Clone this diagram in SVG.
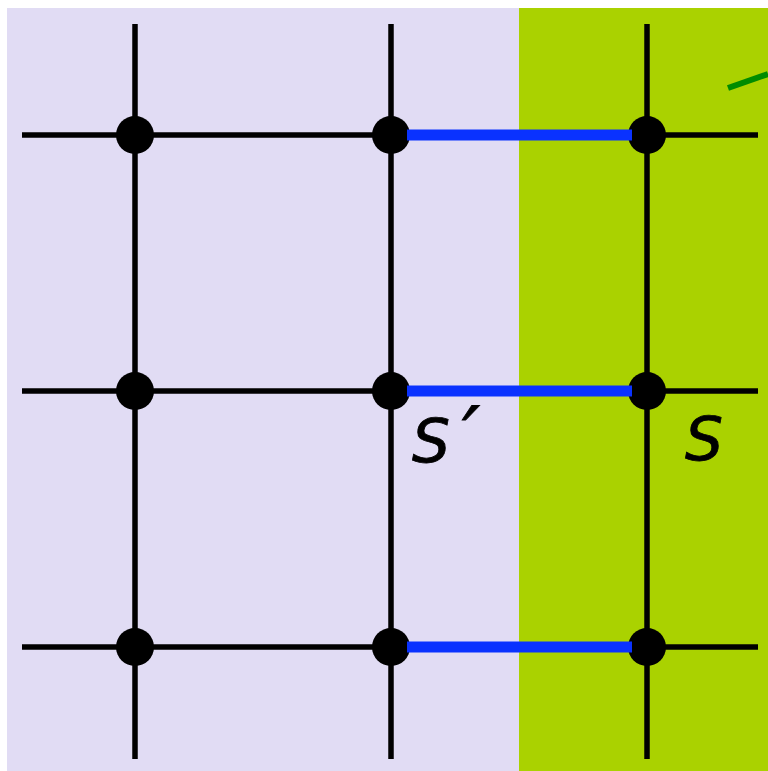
<svg xmlns="http://www.w3.org/2000/svg" width="768" height="771" viewBox="0 0 768 771">
<style>
.g{stroke:#000;stroke-width:5.5;fill:none}
.b{stroke:#0a32ff;stroke-width:11;fill:none}
.n{fill:#000}
.t{font-family:"DejaVu Sans",sans-serif;font-style:italic;font-size:60px;fill:#000;stroke:#000;stroke-width:0.8}
</style>
<rect x="0" y="0" width="768" height="771" fill="#fff"/>
<rect x="7" y="8" width="512" height="763" fill="#e1dcf4"/>
<rect x="519" y="8" width="249" height="763" fill="#aad200"/>
<line x1="728" y1="88" x2="768" y2="74" stroke="#008c00" stroke-width="6"/>
<g id="connectors">
<line class="g" x1="135" y1="24" x2="135" y2="759"/>
<line class="g" x1="391" y1="24" x2="391" y2="759"/>
<line class="g" x1="647" y1="24" x2="647" y2="759"/>
<line class="g" x1="22" y1="135" x2="391" y2="135"/>
<line class="g" x1="22" y1="391" x2="391" y2="391"/>
<line class="g" x1="22" y1="647" x2="391" y2="647"/>
<line class="g" x1="647" y1="135" x2="758" y2="135"/>
<line class="g" x1="647" y1="391" x2="758" y2="391"/>
<line class="g" x1="647" y1="647" x2="758" y2="647"/>
</g>
<g id="n11"><circle class="n" cx="135" cy="135" r="19"/></g>
<g id="n12"><circle class="n" cx="391" cy="135" r="19"/></g>
<g id="n13"><circle class="n" cx="647" cy="135" r="19"/></g>
<g id="n21"><circle class="n" cx="135" cy="391" r="19"/></g>
<g id="n22"><circle class="n" cx="391" cy="391" r="19"/></g>
<g id="n23"><circle class="n" cx="647" cy="391" r="19"/></g>
<g id="n31"><circle class="n" cx="135" cy="647" r="19"/></g>
<g id="n32"><circle class="n" cx="391" cy="647" r="19"/></g>
<g id="n33"><circle class="n" cx="647" cy="647" r="19"/></g>
<g id="blue">
<line class="b" x1="407" y1="135" x2="632" y2="135"/>
<line class="b" x1="407" y1="391" x2="632" y2="391"/>
<line class="b" x1="407" y1="647" x2="632" y2="647"/>
</g>
<text class="t" x="412" y="462">S<tspan font-size="80" dx="12" dy="2">′</tspan></text>
<text class="t" x="685" y="460">S</text>
</svg>
